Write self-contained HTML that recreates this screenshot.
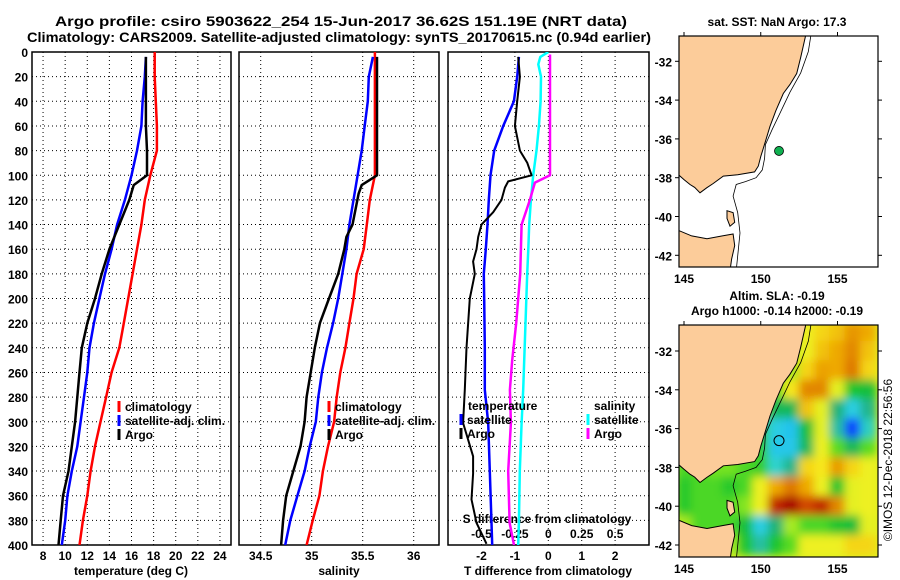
<!DOCTYPE html>
<html><head><meta charset="utf-8"><style>
html,body{margin:0;padding:0;background:#fff;}
svg{display:block;font-family:"Liberation Sans",sans-serif;font-weight:bold;}
</style></head><body>
<svg id="c" width="900" height="580" xmlns="http://www.w3.org/2000/svg">
<defs>
<clipPath id="clipTop"><rect x="679" y="36" width="199" height="231"/></clipPath>
<clipPath id="clipBot"><rect x="679" y="325" width="199" height="232"/></clipPath>
<clipPath id="clipP1"><rect x="32" y="52" width="199" height="493"/></clipPath>
<clipPath id="clipP2"><rect x="239" y="52" width="200" height="493"/></clipPath>
<clipPath id="clipP3"><rect x="448" y="52" width="201" height="493"/></clipPath>
<filter id="blur" x="-10%" y="-10%" width="120%" height="120%"><feGaussianBlur stdDeviation="4.5"/></filter>
</defs>
</svg>
<script>
// ---------- data ----------
const depthTicks=[0,20,40,60,80,100,120,140,160,180,200,220,240,260,280,300,320,340,360,380,400];
const tempTicks=[8,10,12,14,16,18,20,22,24];
const salTicks=[34.5,35,35.5,36];
const salTickLabels=["34.5","35","35.5","36"];
const diffTicks=[-2,-1,0,1,2];
const sDiffTicks=[-0.5,-0.25,0,0.25,0.5];
const sDiffTickLabels=["-0.5","-0.25","0","0.25","0.5"];

const climDepth=[0,20,40,60,80,100,120,140,160,180,200,220,240,260,280,300,320,340,360,380,400];
const tempClim=[18.1,18.1,18.2,18.3,18.3,17.7,17.2,16.9,16.5,16.1,15.7,15.3,14.9,14.2,13.7,13.2,12.7,12.3,12.0,11.6,11.3];
const satDepth=[4,20,40,60,80,100,120,140,160,180,200,220,240,260,280,300,320,340,360,380,400];
const tempSat=[17.3,17.2,17.0,16.9,16.5,16.0,15.4,14.7,14.2,13.6,13.1,12.6,12.2,12.0,11.7,11.4,11.1,10.6,10.2,10.0,9.7];
const argoTempDepth=[4,20,40,60,80,100,108,120,140,160,180,200,220,240,260,280,300,320,340,360,380,400];
const tempArgo=[17.3,17.3,17.3,17.3,17.4,17.4,16.2,15.8,14.9,14.0,13.3,12.7,12.0,11.5,11.3,11.1,10.9,10.6,10.3,9.8,9.6,9.4];

const salClim=[35.62,35.62,35.62,35.62,35.62,35.62,35.57,35.54,35.51,35.44,35.41,35.37,35.33,35.28,35.245,35.22,35.16,35.11,35.075,35.01,34.95];
const salSat=[35.6,35.56,35.55,35.52,35.49,35.45,35.41,35.37,35.34,35.30,35.26,35.21,35.15,35.10,35.065,35.04,34.98,34.93,34.86,34.79,34.74];
const argoSalDepth=[4,20,40,60,80,100,108,115,140,150,160,180,200,220,240,260,280,300,320,340,360,380,400];
const salArgo=[35.64,35.64,35.64,35.64,35.64,35.64,35.49,35.46,35.40,35.34,35.32,35.26,35.17,35.08,35.03,34.99,34.95,34.93,34.89,34.82,34.75,34.72,34.70];

const tSatDiffDepth=[4,20,40,60,80,100,120,140,160,180,200,240,274,301,340,382,400];
const tDiffSat=[-0.88,-0.93,-1.03,-1.35,-1.62,-1.73,-1.78,-1.82,-1.87,-1.93,-1.92,-1.9,-1.9,-1.8,-1.75,-1.7,-1.68];
const tArgoDiffDepth=[4,20,40,60,80,90,100,105,110,120,130,140,150,160,170,180,200,240,274,301,328,342,363,382,399];
const tDiffArgo=[-0.9,-0.85,-0.93,-1.0,-0.85,-0.63,-0.5,-1.2,-1.3,-1.4,-1.65,-2.0,-2.1,-2.15,-2.25,-2.2,-2.35,-2.45,-2.5,-2.55,-2.25,-2.25,-2.3,-2.15,-1.85];
const sSatDiffDepth=[0,4,10,20,40,60,80,100,120,140,160,180,274,301,340,382,400];
const sDiffSat=[0,-0.06,-0.075,-0.055,-0.058,-0.07,-0.088,-0.113,-0.13,-0.143,-0.15,-0.158,-0.188,-0.2,-0.213,-0.22,-0.225];
const sArgoDiffDepth=[2,100,106,120,140,160,180,220,250,274,301,340,382,400];
const sDiffArgo=[0.0125,0.0125,-0.1,-0.1375,-0.2,-0.205,-0.21,-0.24,-0.27,-0.2875,-0.28,-0.3,-0.29,-0.257];

const latTicks=[-32,-34,-36,-38,-40,-42];
const lonTicks=[145,150,155];
const argoLon=151.19, argoLat=-36.62;
const slaLons=[145,146,147,148,149,150,151,152,153,154,155,156,157];
const slaLats=[-31,-32,-33,-34,-35,-36,-37,-38,-39,-40,-41,-42];
const slaRow31=[0,0,0,0,0,0,0,0,0.06,0.1,0.12,0.18,0.15];
const slaRow32=[0,0,0,0,0,0,0,0,0.06,0.12,0.15,0.2,0.12];
const slaRow33=[0,0,0,0,0,0,0,0.0,0.1,0.16,0.15,0.22,0.1];
const slaRow34=[0,0,0,0,0,0,-0.05,0.08,0.2,0.2,0.05,-0.1,-0.12];
const slaRow35=[0,0,0,0,0,0,-0.15,-0.15,0.12,0.05,-0.18,-0.3,-0.2];
const slaRow36=[0,0,0,0,0,-0.08,-0.3,-0.33,-0.12,0.05,-0.22,-0.45,-0.25];
const slaRow37=[0,0,0,0,0,-0.08,-0.32,-0.32,-0.15,0.06,-0.05,-0.15,-0.05];
const slaRow38=[-0.06,-0.06,-0.03,-0.03,-0.06,-0.08,-0.26,-0.2,0.1,0.08,0.17,0.1,0.06];
const slaRow39=[-0.09,-0.06,-0.06,-0.09,-0.06,0.06,0.15,0.22,0.15,0.06,-0.1,0.05,0.06];
const slaRow40=[-0.09,-0.06,-0.06,-0.06,-0.02,0.06,0.32,0.45,0.28,0.32,0.2,0.05,0.06];
const slaRow41=[0,-0.06,-0.06,-0.06,-0.12,-0.3,-0.18,0,-0.06,-0.06,-0.1,-0.12,0.05];
const slaRow42=[0,0,0,0,-0.1,-0.22,-0.1,-0.05,0.06,0.06,0.06,0.1,0.1];
const slaRows=[slaRow31,slaRow32,slaRow33,slaRow34,slaRow35,slaRow36,slaRow37,slaRow38,slaRow39,slaRow40,slaRow41,slaRow42];

const mainland=[[144.5,-30.5],[153.0,-30.5],[152.93,-30.66],[152.6,-31.8],[152.34,-32.63],[151.9,-33.2],[151.47,-33.66],[150.99,-34.54],[150.6,-35.35],[150.28,-36.2],[150.0,-36.9],[149.84,-37.4],[149.6,-37.7],[148.5,-37.85],[147.56,-37.92],[146.9,-38.3],[146.48,-38.52],[146.04,-38.78],[145.7,-38.5],[145.39,-38.35],[145.0,-38.1],[144.5,-37.75]];
const tasmania=[[144.5,-40.67],[145.5,-41.0],[146.5,-41.15],[147.5,-41.0],[148.2,-40.9],[148.3,-41.5],[148.1,-42.2],[148.0,-42.8],[144.5,-42.8]];
const flinders=[[147.8,-39.7],[148.2,-39.8],[148.3,-40.3],[148.0,-40.5],[147.8,-40.1]];
const shelf=[[153.3,-30.5],[153.1,-31.5],[152.6,-32.6],[151.9,-33.6],[151.3,-34.6],[150.75,-35.5],[150.3,-36.3],[150.25,-37.0],[150.1,-37.6],[149.7,-38.0],[149.0,-38.2],[148.4,-38.35],[148.2,-38.95],[148.5,-39.8],[148.65,-40.85],[148.4,-42.8]];

// ---------- helpers ----------
const NS="http://www.w3.org/2000/svg";
const svg=document.getElementById('c');
function mk(tag,attrs,parent){const e=document.createElementNS(NS,tag);for(const k in attrs)e.setAttribute(k,attrs[k]);(parent||svg).appendChild(e);return e;}
function txt(s,x,y,attrs,parent){const e=mk('text',Object.assign({x:x,y:y,'font-size':12},attrs||{}),parent);e.textContent=s;return e;}

const yD=d=>52+d*493/400;
const xT=t=>32+(t-7)*199/18;
const xS=s=>311.7+(s-35)*102;
const xDf=v=>548.3+v*33.4;
const xSd=s=>xDf(s*4);
const lonX=lon=>684+(lon-145)*15.35;
const latYTop=lat=>61.3+(-32-lat)*19.4;
const latYBot=lat=>351+(-32-lat)*19.4;

function line(xs,ds,fx,color,w,clip,name){
  const pts=ds.map((d,i)=>fx(xs[i]).toFixed(1)+','+yD(d).toFixed(1)).join(' ');
  const p=mk('polyline',{points:pts,fill:'none',stroke:color,'stroke-width':w,'stroke-linejoin':'round','clip-path':'url(#'+clip+')'});
  
  
}

// ---------- titles ----------
let t=txt('Argo profile: csiro 5903622_254 15-Jun-2017 36.62S 151.19E (NRT data)',341,26,{'font-size':14,'text-anchor':'middle',textLength:572,lengthAdjust:'spacingAndGlyphs'});


t=txt('Climatology: CARS2009. Satellite-adjusted climatology: synTS_20170615.nc (0.94d earlier)',339,42,{'font-size':14,'text-anchor':'middle',textLength:624,lengthAdjust:'spacingAndGlyphs'});



// ---------- panels ----------
function panel(x0,w,name,clip,vticks,fx){
  const g=mk('g',{});
  
  
  depthTicks.forEach(d=>{ if(d>0&&d<400){const l=mk('line',{x1:x0,x2:x0+w,y1:yD(d),y2:yD(d),stroke:'#000','stroke-width':1,'stroke-dasharray':'1,3'},g);
    
    }});
  vticks.forEach(v=>{const l=mk('line',{x1:fx(v),x2:fx(v),y1:52,y2:545,stroke:'#000','stroke-width':1,'stroke-dasharray':'1,3'},g);
    
    });
  const r=mk('rect',{x:x0,y:52,width:w,height:493,fill:'none',stroke:'#000','stroke-width':1.5},g);
  
  
  return g;
}
panel(32,199,'temperature-panel','clipP1',tempTicks,xT);
panel(239,200,'salinity-panel','clipP2',salTicks,xS);
panel(448,201,'difference-panel','clipP3',diffTicks,xDf);

depthTicks.forEach(d=>{const e=txt(String(d),28,yD(d)+5,{'text-anchor':'end'});
  
  });
tempTicks.forEach(v=>{const e=txt(String(v),xT(v),560,{'text-anchor':'middle'});
  
  });
salTicks.forEach((v,i)=>{const e=txt(salTickLabels[i],xS(v),560,{'text-anchor':'middle'});
  
  });
diffTicks.forEach(v=>{const e=txt(String(v),xDf(v),560,{'text-anchor':'middle'});
  
  });
sDiffTicks.forEach((v,i)=>{const e=txt(sDiffTickLabels[i],xSd(v),538,{'text-anchor':'middle'});
  
  });
t=txt('S difference from climatology',547,523,{'text-anchor':'middle'});


t=txt('temperature (deg C)',131,575,{'text-anchor':'middle'});


t=txt('salinity',339,575,{'text-anchor':'middle'});


t=txt('T difference from climatology',548,575,{'text-anchor':'middle'});



line(tempClim,climDepth,xT,'#ff0000',2.5,'clipP1','temp-climatology-line');
line(tempSat,satDepth,xT,'#0000ff',2.5,'clipP1','temp-satellite-line');
line(tempArgo,argoTempDepth,xT,'#000000',2.5,'clipP1','temp-argo-line');
line(salClim,climDepth,xS,'#ff0000',2.5,'clipP2','sal-climatology-line');
line(salSat,satDepth,xS,'#0000ff',2.5,'clipP2','sal-satellite-line');
line(salArgo,argoSalDepth,xS,'#000000',2.5,'clipP2','sal-argo-line');
line(sDiffSat,sSatDiffDepth,xSd,'#00ffff',2.5,'clipP3','s-diff-satellite-line');
line(sDiffArgo,sArgoDiffDepth,xSd,'#ff00ff',2.5,'clipP3','s-diff-argo-line');
line(tDiffSat,tSatDiffDepth,xDf,'#0000ff',2.5,'clipP3','t-diff-satellite-line');
line(tDiffArgo,tArgoDiffDepth,xDf,'#000000',2,'clipP3','t-diff-argo-line');

function legend(x,y,color,label,name){
  const g=mk('g',{});
  
  
  if(color){mk('line',{x1:x,x2:x,y1:y-10,y2:y+1,stroke:color,'stroke-width':3},g);}
  txt(label,x+6,y,{},g);
}
legend(119,411,'#ff0000','climatology','legend-entry-climatology');
legend(119,425,'#0000ff','satellite-adj. clim.','legend-entry-satellite-adj');
legend(119,439,'#000000','Argo','legend-entry-argo');
legend(329,411,'#ff0000','climatology','legend-entry-climatology');
legend(329,425,'#0000ff','satellite-adj. clim.','legend-entry-satellite-adj');
legend(329,439,'#000000','Argo','legend-entry-argo');
legend(462,410,null,'temperature','legend-title-temperature');
legend(461,424,'#0000ff','satellite','legend-entry-t-satellite');
legend(461,438,'#000000','Argo','legend-entry-t-argo');
legend(588,410,null,'salinity','legend-title-salinity');
legend(588,424,'#00ffff','satellite','legend-entry-s-satellite');
legend(588,438,'#ff00ff','Argo','legend-entry-s-argo');

// ---------- maps ----------
const stops=[[-0.42,[16,64,255]],[-0.34,[32,192,240]],[-0.27,[48,216,216]],[-0.19,[32,176,128]],[-0.11,[16,192,48]],[-0.04,[100,224,32]],[0.02,[200,240,32]],[0.07,[248,240,32]],[0.14,[240,176,0]],[0.21,[224,128,0]],[0.29,[208,64,0]],[0.37,[168,0,0]]];
function cmap(v){
  if(v<=stops[0][0])return 'rgb('+stops[0][1]+')';
  for(let i=1;i<stops.length;i++){if(v<=stops[i][0]){const a=stops[i-1],b=stops[i],f=(v-a[0])/(b[0]-a[0]);
    return 'rgb('+a[1].map((c,k)=>Math.round(c+(b[1][k]-c)*f)).join(',')+')';}}
  return 'rgb('+stops[stops.length-1][1]+')';
}
function poly(pts,fy,attrs,parent,name){
  const p=mk('polygon',Object.assign({points:pts.map(q=>lonX(q[0]).toFixed(1)+','+fy(q[1]).toFixed(1)).join(' ')},attrs),parent);
  
  
}
function pline(pts,fy,parent,name){
  const p=mk('polyline',{points:pts.map(q=>lonX(q[0]).toFixed(1)+','+fy(q[1]).toFixed(1)).join(' '),fill:'none',stroke:'#000','stroke-width':0.8},parent);
  
  
}
function mapAxes(y0,h,fy,name){
  const g=mk('g',{});
  
  
  mk('rect',{x:679,y:y0,width:199,height:h,fill:'none',stroke:'#000','stroke-width':1.2},g);
  latTicks.forEach(l=>{mk('line',{x1:675,x2:679,y1:fy(l),y2:fy(l),stroke:'#000'},g);mk('line',{x1:878,x2:882,y1:fy(l),y2:fy(l),stroke:'#000'},g);
    const e=txt(String(l),672,fy(l)+5,{'text-anchor':'end'},g);
    
    });
  lonTicks.forEach(l=>{mk('line',{x1:lonX(l),x2:lonX(l),y1:y0-4,y2:y0,stroke:'#000'},g);
    const e=txt(String(l),lonX(l),y0+h+16,{'text-anchor':'middle'},g);
    
    });
}
let gm=mk('g',{'clip-path':'url(#clipTop)'});


mk('rect',{x:679,y:36,width:199,height:231,fill:'#fff'},gm);
poly(mainland,latYTop,{fill:'#fccc9a',stroke:'#000','stroke-width':1},gm,'mainland');
poly(tasmania,latYTop,{fill:'#fccc9a',stroke:'#000','stroke-width':1},gm,'tasmania');
poly(flinders,latYTop,{fill:'#fccc9a',stroke:'#000','stroke-width':1},gm,'flinders-island');
pline(shelf,latYTop,gm,'shelf-contour');
let dot=mk('circle',{cx:lonX(argoLon),cy:latYTop(argoLat),r:4.5,fill:'#10b050',stroke:'#000','stroke-width':0.8},gm);


mapAxes(36,231,latYTop,'sst-map-axes');
t=txt('sat. SST: NaN Argo: 17.3',777,26,{'text-anchor':'middle'});



gm=mk('g',{'clip-path':'url(#clipBot)'});


mk('rect',{x:679,y:325,width:199,height:232,fill:'#e0f020'},gm);
const gh=mk('g',{filter:'url(#blur)'},gm);
slaLats.forEach((la,i)=>{slaLons.forEach((lo,j)=>{
  const c=mk('rect',{x:lonX(lo)-8.2,y:latYBot(la)-10.2,width:16.4,height:20.4,fill:cmap(slaRows[i][j])},gh);
  
  
});});
poly(mainland,latYBot,{fill:'#fccc9a',stroke:'#000','stroke-width':1},gm,'mainland');
poly(tasmania,latYBot,{fill:'#fccc9a',stroke:'#000','stroke-width':1},gm,'tasmania');
poly(flinders,latYBot,{fill:'#fccc9a',stroke:'#000','stroke-width':1},gm,'flinders-island');
pline(shelf,latYBot,gm,'shelf-contour');
dot=mk('circle',{cx:lonX(argoLon),cy:latYBot(argoLat),r:5,fill:'none',stroke:'#000','stroke-width':1},gm);


mapAxes(325,232,latYBot,'sla-map-axes');
t=txt('Altim. SLA: -0.19',777,300,{'text-anchor':'middle'});


t=txt('Argo h1000: -0.14 h2000: -0.19',777,315,{'text-anchor':'middle'});


t=txt('\u00A9IMOS 12-Dec-2018 22:56:56',0,0,{'text-anchor':'middle','font-weight':'normal','font-size':12,transform:'translate(892,460) rotate(-90)'});


</script>
</body></html>
